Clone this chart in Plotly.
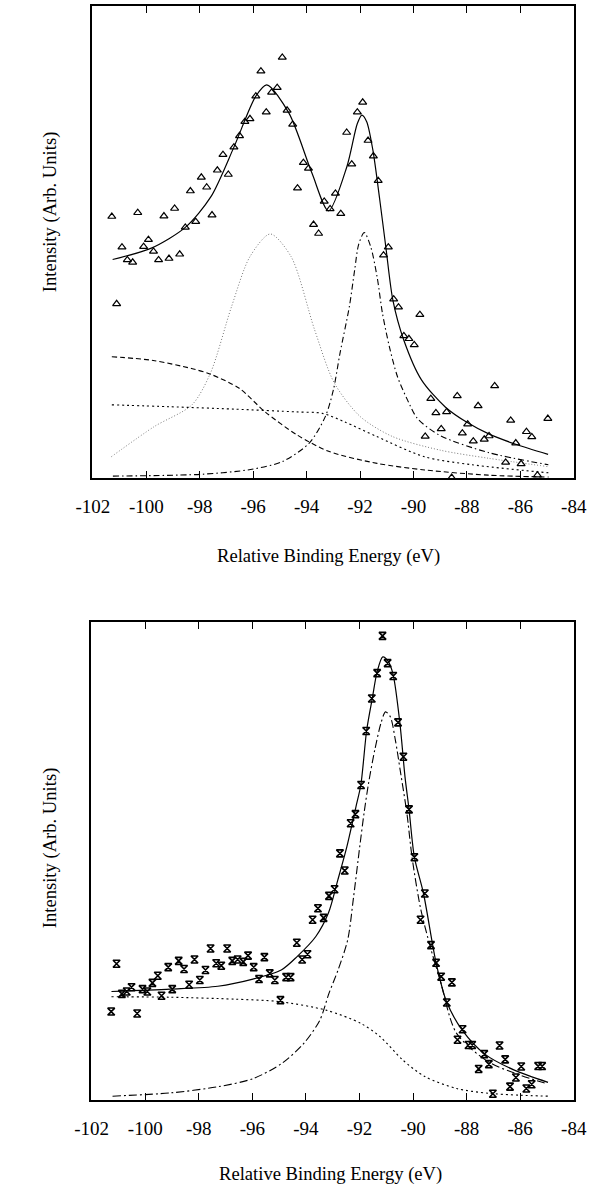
import plotly.graph_objects as go

# ---------------- Top panel (triangles) ----------------
top_pts_x = [-101.29, -101.11, -100.91, -100.71, -100.51, -100.32, -100.10, -99.92, -99.73, -99.54,
             -99.34, -99.15, -98.94, -98.75, -98.54, -98.35, -98.15, -97.94, -97.74, -97.54,
             -97.34, -97.13, -96.93, -96.72, -96.51, -96.31, -96.12, -95.90, -95.71, -95.51,
             -95.31, -95.10, -94.91, -94.73, -94.52, -94.34, -94.12, -93.93, -93.74, -93.55,
             -93.34, -93.12, -92.92, -92.72, -92.50, -92.31, -92.10, -91.90, -91.70, -91.50,
             -91.32, -91.12, -90.94, -90.74, -90.56, -90.36, -90.17, -89.97, -89.76, -89.56,
             -89.35, -89.16, -88.96, -88.76, -88.57, -88.36, -88.17, -87.97, -87.76, -87.58,
             -87.35, -87.17, -86.96, -86.55, -86.36, -86.17, -85.97, -85.77, -85.57, -85.36,
             -84.97]
top_pts_y = [0.554, 0.369, 0.489, 0.462, 0.457, 0.562, 0.490, 0.505, 0.480, 0.462,
             0.555, 0.465, 0.571, 0.474, 0.531, 0.608, 0.543, 0.637, 0.616, 0.557,
             0.652, 0.685, 0.643, 0.701, 0.725, 0.755, 0.761, 0.809, 0.862, 0.775,
             0.817, 0.827, 0.891, 0.779, 0.749, 0.614, 0.668, 0.656, 0.537, 0.518,
             0.586, 0.570, 0.603, 0.560, 0.732, 0.665, 0.775, 0.796, 0.715, 0.682,
             0.630, 0.472, 0.489, 0.379, 0.362, 0.301, 0.295, 0.282, 0.346, 0.088,
             0.168, 0.138, 0.104, 0.140, 0.001, 0.174, 0.095, 0.114, 0.078, 0.153,
             0.082, 0.089, 0.195, 0.033, 0.122, 0.074, 0.030, 0.098, 0.087, 0.006,
             0.126]

top_fit_x = [-101.26, -99.81, -98.54, -97.58, -96.72, -95.90, -95.49, -94.66, -93.80, -93.18,
             -92.49, -92.10, -91.93, -91.75, -91.52, -91.26, -91.02, -90.77, -90.36, -89.70,
             -88.80, -88.00, -87.20, -86.20, -84.96]
top_fit_y = [0.463, 0.487, 0.531, 0.596, 0.701, 0.809, 0.833, 0.773, 0.646, 0.566,
             0.660, 0.751, 0.769, 0.755, 0.695, 0.589, 0.483, 0.377, 0.292, 0.208,
             0.150, 0.118, 0.094, 0.072, 0.050]

top_peak1_x = [-101.31, -99.70, -98.29, -97.60, -96.81, -96.12, -95.36, -94.58, -93.70, -92.96,
               -91.99, -90.79, -89.00, -87.21, -84.95]
top_peak1_y = [0.045, 0.109, 0.155, 0.222, 0.363, 0.469, 0.517, 0.469, 0.314, 0.201,
               0.130, 0.088, 0.059, 0.042, 0.024]

top_broad_x = [-101.29, -99.74, -98.31, -97.60, -96.52, -95.55, -94.35, -93.15, -91.36, -89.58,
               -87.20, -84.94]
top_broad_y = [0.257, 0.249, 0.232, 0.220, 0.190, 0.140, 0.091, 0.056, 0.031, 0.017,
               0.006, 0.002]

top_bg_x = [-101.29, -99.12, -96.74, -94.37, -93.41, -92.58, -91.38, -89.59, -87.80, -84.95]
top_bg_y = [0.155, 0.151, 0.146, 0.140, 0.137, 0.119, 0.088, 0.045, 0.028, 0.011]

top_peak2_x = [-101.25, -97.90, -96.10, -94.90, -93.90, -93.30, -93.00, -92.75, -92.40, -92.20,
               -92.05, -91.84, -91.60, -91.36, -91.16, -90.90, -90.60, -90.22, -89.85, -89.00,
               -87.20, -84.95]
top_peak2_y = [0.004, 0.008, 0.018, 0.035, 0.074, 0.130, 0.186, 0.264, 0.363, 0.441,
               0.495, 0.520, 0.490, 0.426, 0.349, 0.278, 0.215, 0.165, 0.126, 0.090,
               0.054, 0.028]

# ---------------- Bottom panel (stars) ----------------
bot_pts_x = [-101.27, -101.07, -100.87, -100.69, -100.51, -100.30, -100.10, -99.92, -99.73, -99.53,
             -99.39, -99.14, -98.99, -98.75, -98.55, -98.36, -98.16, -97.96, -97.75, -97.56,
             -97.35, -97.16, -96.94, -96.75, -96.55, -96.34, -96.16, -95.95, -95.75, -95.55,
             -95.35, -95.16, -94.95, -94.74, -94.57, -94.34, -94.14, -93.94, -93.75, -93.55,
             -93.34, -93.14, -92.93, -92.73, -92.55, -92.33, -92.15, -91.94, -91.75, -91.54,
             -91.34, -91.14, -90.95, -90.74, -90.56, -90.36, -90.15, -89.95, -89.72, -89.56,
             -89.33, -89.14, -88.95, -88.74, -88.55, -88.34, -88.15, -87.93, -87.79, -87.55,
             -87.34, -87.17, -87.02, -86.77, -86.56, -86.38, -86.16, -85.96, -85.77, -85.57,
             -85.33, -85.18]
bot_pts_y = [0.185, 0.285, 0.222, 0.227, 0.236, 0.181, 0.232, 0.227, 0.245, 0.260,
             0.218, 0.278, 0.232, 0.291, 0.274, 0.241, 0.294, 0.251, 0.272, 0.317,
             0.286, 0.281, 0.317, 0.291, 0.294, 0.289, 0.302, 0.278, 0.253, 0.299,
             0.265, 0.251, 0.209, 0.257, 0.257, 0.329, 0.294, 0.305, 0.377, 0.401,
             0.381, 0.427, 0.441, 0.516, 0.480, 0.579, 0.598, 0.659, 0.772, 0.840,
             0.893, 0.971, 0.914, 0.887, 0.790, 0.718, 0.608, 0.508, 0.377, 0.432,
             0.324, 0.287, 0.258, 0.204, 0.246, 0.126, 0.148, 0.115, 0.115, 0.065,
             0.096, 0.075, 0.013, 0.114, 0.085, 0.028, 0.047, 0.070, 0.024, 0.033,
             0.071, 0.071]

bot_fit_x = [-101.26, -99.06, -97.29, -95.98, -94.92, -94.33, -93.63, -93.16, -92.81, -92.47,
             -92.13, -91.95, -91.73, -91.51, -91.34, -91.13, -90.92, -90.74, -90.49, -90.30,
             -90.15, -89.95, -89.61, -89.14, -88.75, -88.15, -87.32, -86.24, -84.96]
bot_fit_y = [0.227, 0.232, 0.238, 0.253, 0.272, 0.300, 0.342, 0.391, 0.460, 0.530,
             0.614, 0.659, 0.774, 0.844, 0.896, 0.927, 0.917, 0.889, 0.788, 0.676,
             0.608, 0.508, 0.432, 0.287, 0.206, 0.145, 0.096, 0.063, 0.037]

bot_bg_x = [-101.26, -99.06, -96.69, -95.03, -93.25, -91.94, -91.22, -90.39, -89.56, -88.37,
            -87.18, -86.00, -84.96]
bot_bg_y = [0.216, 0.215, 0.211, 0.206, 0.188, 0.160, 0.132, 0.084, 0.049, 0.024,
            0.014, 0.010, 0.008]

bot_peak_x = [-101.22, -99.03, -97.26, -95.96, -94.89, -94.07, -93.48, -93.14, -92.80, -92.44,
              -92.22, -91.99, -91.83, -91.66, -91.43, -91.20, -91.03, -90.85, -90.66, -90.48,
              -90.23, -90.04, -89.73, -89.36, -88.99, -88.38, -87.19, -86.00, -85.05]
bot_peak_y = [0.008, 0.015, 0.028, 0.045, 0.077, 0.119, 0.167, 0.223, 0.272, 0.335,
              0.425, 0.530, 0.600, 0.663, 0.732, 0.788, 0.812, 0.802, 0.753, 0.690,
              0.600, 0.509, 0.404, 0.321, 0.251, 0.140, 0.080, 0.052, 0.035]

tick_vals = [-102, -100, -98, -96, -94, -92, -90, -88, -86, -84]
tick_text = [str(v) for v in tick_vals]
x_title = "Relative Binding Energy (eV)"
y_title = "Intensity (Arb. Units)"

W, H = 601, 1185
FONT = "Liberation Serif, Times New Roman, serif"

fig = go.Figure()


def line(x, y, dash, color="black", width=1.1, xa="x", ya="y"):
    fig.add_trace(go.Scatter(x=x, y=y, mode="lines", xaxis=xa, yaxis=ya,
                             line=dict(color=color, width=width, dash=dash, shape="spline",
                                       smoothing=0.8),
                             hoverinfo="skip", showlegend=False, cliponaxis=False))


# top panel
line(top_peak1_x, top_peak1_y, "1px,2px", color="#777777", width=1.0)
line(top_broad_x, top_broad_y, "5px,3px")
line(top_bg_x, top_bg_y, "2px,3px")
line(top_peak2_x, top_peak2_y, "6px,3px,1.5px,3px")
line(top_fit_x, top_fit_y, "solid", width=1.2)
fig.add_trace(go.Scatter(x=top_pts_x, y=top_pts_y, mode="markers", xaxis="x", yaxis="y",
                         marker=dict(symbol="triangle-up-open", size=7, color="black",
                                     line=dict(width=1.2, color="black")),
                         showlegend=False, cliponaxis=False))

# bottom panel
line(bot_bg_x, bot_bg_y, "2px,3px", xa="x2", ya="y2")
line(bot_peak_x, bot_peak_y, "8px,3px,2px,3px", xa="x2", ya="y2")
line(bot_fit_x, bot_fit_y, "solid", width=1.2, xa="x2", ya="y2")
fig.add_trace(go.Scatter(x=bot_pts_x, y=bot_pts_y, mode="markers", xaxis="x2", yaxis="y2",
                         marker=dict(symbol="hourglass-open", size=7, color="black",
                                     line=dict(width=1.6, color="black")),
                         showlegend=False, cliponaxis=False))

xcommon = dict(tickmode="array", tickvals=tick_vals, ticktext=tick_text,
               ticks="inside", ticklen=7, tickwidth=1.2, tickcolor="black",
               showline=True, linewidth=1.5, linecolor="black", mirror="ticks",
               showgrid=False, zeroline=False, ticklabelstandoff=10,
               tickfont=dict(family=FONT, size=19, color="black"), fixedrange=True)
ycommon = dict(range=[0, 1], showticklabels=False, ticks="", showline=True, linewidth=1.5,
               linecolor="black", mirror=True, showgrid=False, zeroline=False, fixedrange=True)

fig.update_layout(
    width=W, height=H, autosize=False,
    margin=dict(l=0, r=0, t=0, b=0),
    paper_bgcolor="white", plot_bgcolor="white",
    xaxis=dict(domain=[79 / W, 586 / W], anchor="y", range=[-102.03, -84.0], **xcommon),
    yaxis=dict(domain=[1 - 478 / H, 1 - 6 / H], anchor="x", **ycommon),
    xaxis2=dict(domain=[78 / W, 586 / W], anchor="y2", range=[-102.02, -84.0], **xcommon),
    yaxis2=dict(domain=[1 - 1100 / H, 1 - 622 / H], anchor="x2", **ycommon),
    annotations=[
        dict(text=x_title, xref="paper", yref="paper", x=328 / W, y=1 - 556 / H,
             showarrow=False, xanchor="center", yanchor="middle",
             font=dict(family=FONT, size=18.6, color="black")),
        dict(text=x_title, xref="paper", yref="paper", x=330 / W, y=1 - 1174 / H,
             showarrow=False, xanchor="center", yanchor="middle",
             font=dict(family=FONT, size=18.6, color="black")),
        dict(text=y_title, xref="paper", yref="paper", x=35 / W, y=1 - 212 / H,
             showarrow=False, xanchor="center", yanchor="middle", textangle=-90,
             font=dict(family=FONT, size=18.6, color="black")),
        dict(text=y_title, xref="paper", yref="paper", x=35 / W, y=1 - 848 / H,
             showarrow=False, xanchor="center", yanchor="middle", textangle=-90,
             font=dict(family=FONT, size=18.6, color="black")),
    ],
)

page_fix = ("document.body.style.margin='0';document.body.style.padding='0';"
            "document.body.style.overflow='hidden';"
            "document.documentElement.style.overflow='hidden';")

fig.write_html("out.html", config={"responsive": False, "displayModeBar": False},
               post_script=page_fix)
